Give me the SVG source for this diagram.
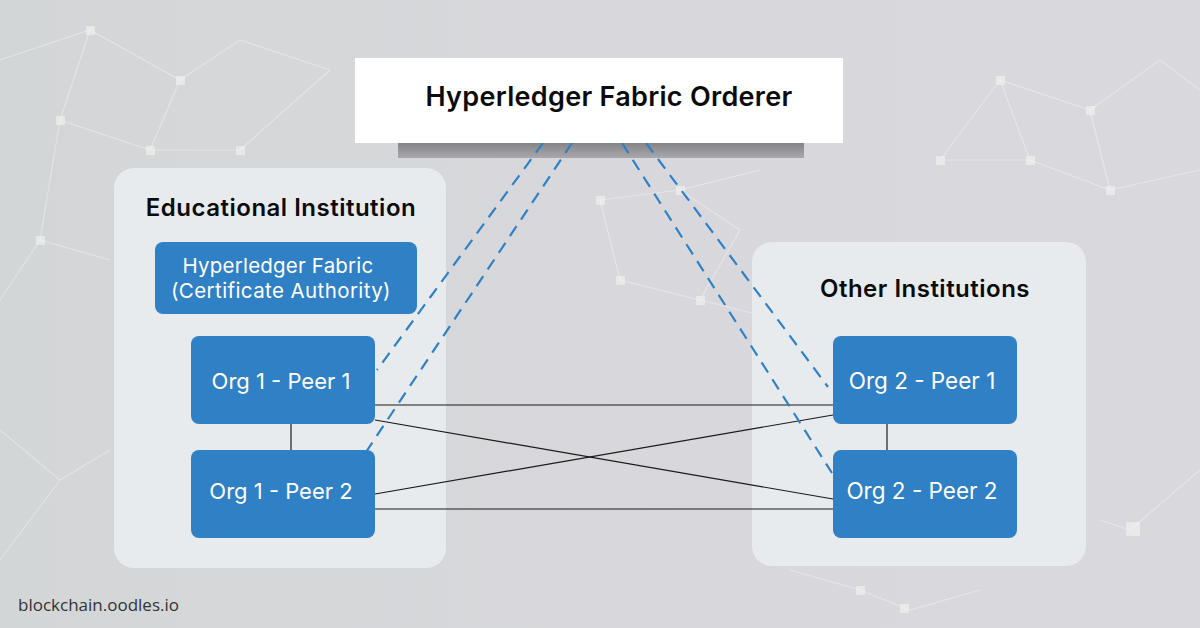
<svg xmlns="http://www.w3.org/2000/svg" width="1200" height="628" viewBox="0 0 1200 628">
<defs>
<linearGradient id="bg" x1="0" y1="0" x2="1" y2="0">
<stop offset="0" stop-color="#d3d6d6"/>
<stop offset="0.5" stop-color="#d8d8dc"/>
<stop offset="1" stop-color="#d9d8dd"/>
</linearGradient>
<linearGradient id="band" x1="0" y1="0" x2="0" y2="1">
<stop offset="0" stop-color="#7d7d7f"/>
<stop offset="1" stop-color="#a9a9ad"/>
</linearGradient>
<style>
.panel{fill:#e8ebee}
.box{fill:#2f80c5}
.title{font-family:Inter,"Liberation Sans",sans-serif;font-weight:600;fill:#0b0b0b;text-anchor:middle}
.lbl{font-family:Inter,"Liberation Sans",sans-serif;font-weight:400;fill:#ffffff;text-anchor:middle}
.link{stroke:#1a1a1a;stroke-width:1.2;fill:none}
.dash{stroke:#2f80c5;stroke-width:2.2;stroke-dasharray:12 8;fill:none}
.net{stroke:#ffffff;stroke-opacity:0.35;stroke-width:1.2;fill:none}
.dot{fill:#f2f5f0;fill-opacity:0.6}
</style>
</defs>
<rect width="1200" height="628" fill="url(#bg)"/>
<g id="background-network">
<path class="net" d="M0 60 L90 30 L180 80 L240 40 L330 70 M90 30 L60 120 L150 150 L180 80 M60 120 L40 240 L110 260 M150 150 L240 150 L330 70 M40 240 L0 300 M940 160 L1000 80 L1090 110 L1160 60 L1200 90 M1000 80 L1030 160 L940 160 M1030 160 L1110 190 L1090 110 M1110 190 L1200 170 M600 200 L680 190 L740 230 L700 300 L620 280 L600 200 M680 190 L760 170 M700 300 L780 320 M0 430 L60 480 L0 560 M60 480 L110 450 M790 570 L860 590 L910 610 L980 590 M1100 520 L1130 530 L1200 470"/>
<g class="dot">
<rect x="86" y="26" width="9" height="9"/><rect x="176" y="76" width="9" height="9"/><rect x="56" y="116" width="9" height="9"/><rect x="146" y="146" width="9" height="9"/><rect x="36" y="236" width="9" height="9"/><rect x="236" y="146" width="9" height="9"/>
<rect x="996" y="76" width="9" height="9"/><rect x="1026" y="156" width="9" height="9"/><rect x="936" y="156" width="9" height="9"/><rect x="1086" y="106" width="9" height="9"/><rect x="1106" y="186" width="9" height="9"/>
<rect x="676" y="186" width="9" height="9"/><rect x="696" y="296" width="9" height="9"/><rect x="616" y="276" width="9" height="9"/><rect x="596" y="196" width="9" height="9"/>
<rect x="1126" y="522" width="14" height="14"/><rect x="856" y="586" width="9" height="9"/><rect x="900" y="604" width="9" height="9"/>
</g>
</g>
<rect x="398" y="140" width="406" height="18" fill="url(#band)"/>
<g id="educational-institution">
<rect class="panel" x="114" y="168" width="332" height="400" rx="20"/>
<text class="title" x="281" y="216" font-size="24" letter-spacing="0.5">Educational Institution</text>
</g>
<g id="other-institutions">
<rect class="panel" x="752" y="242" width="334" height="324" rx="20"/>
<text class="title" x="925" y="297" font-size="24" letter-spacing="0.5">Other Institutions</text>
</g>
<g id="connectors">
<line class="link" x1="375" y1="405" x2="833" y2="405"/>
<line class="link" x1="375" y1="420" x2="833" y2="499"/>
<line class="link" x1="375" y1="494" x2="833" y2="415"/>
<line class="link" x1="375" y1="509" x2="833" y2="509"/>
<line class="link" x1="291" y1="424" x2="291" y2="450"/>
<line class="link" x1="887" y1="424" x2="887" y2="450"/>
<line class="dash" x1="543" y1="143" x2="377" y2="370"/>
<line class="dash" x1="572" y1="143" x2="366" y2="452"/>
<line class="dash" x1="622" y1="143" x2="832" y2="473"/>
<line class="dash" x1="646" y1="143" x2="828" y2="387"/>
</g>
<g id="orderer">
<rect x="355" y="58" width="488" height="85" fill="#ffffff"/>
<text class="title" x="609" y="106" font-size="27" letter-spacing="0.3">Hyperledger Fabric Orderer</text>
</g>
<g id="ca">
<rect class="box" x="155" y="242" width="262" height="72" rx="8"/>
<text class="lbl" x="278" y="273" font-size="20.5" letter-spacing="0.2">Hyperledger Fabric</text>
<text class="lbl" x="281" y="298" font-size="20.5" letter-spacing="0.4">(Certificate Authority)</text>
</g>
<g id="org1-peer1">
<rect class="box" x="191" y="336" width="184" height="88" rx="8"/>
<text class="lbl" x="281" y="389" font-size="22">Org 1 - Peer 1</text>
</g>
<g id="org1-peer2">
<rect class="box" x="191" y="450" width="184" height="88" rx="8"/>
<text class="lbl" x="281" y="499" font-size="22">Org 1 - Peer 2</text>
</g>
<g id="org2-peer1">
<rect class="box" x="833" y="336" width="184" height="88" rx="8"/>
<text class="lbl" x="922" y="389" font-size="22.5">Org 2 - Peer 1</text>
</g>
<g id="org2-peer2">
<rect class="box" x="833" y="450" width="184" height="88" rx="8"/>
<text class="lbl" x="922" y="499" font-size="22.5">Org 2 - Peer 2</text>
</g>
<text x="18" y="611" font-family="'Open Sans','Liberation Sans',sans-serif" font-size="17" fill="#333">blockchain.oodles.io</text>
</svg>
